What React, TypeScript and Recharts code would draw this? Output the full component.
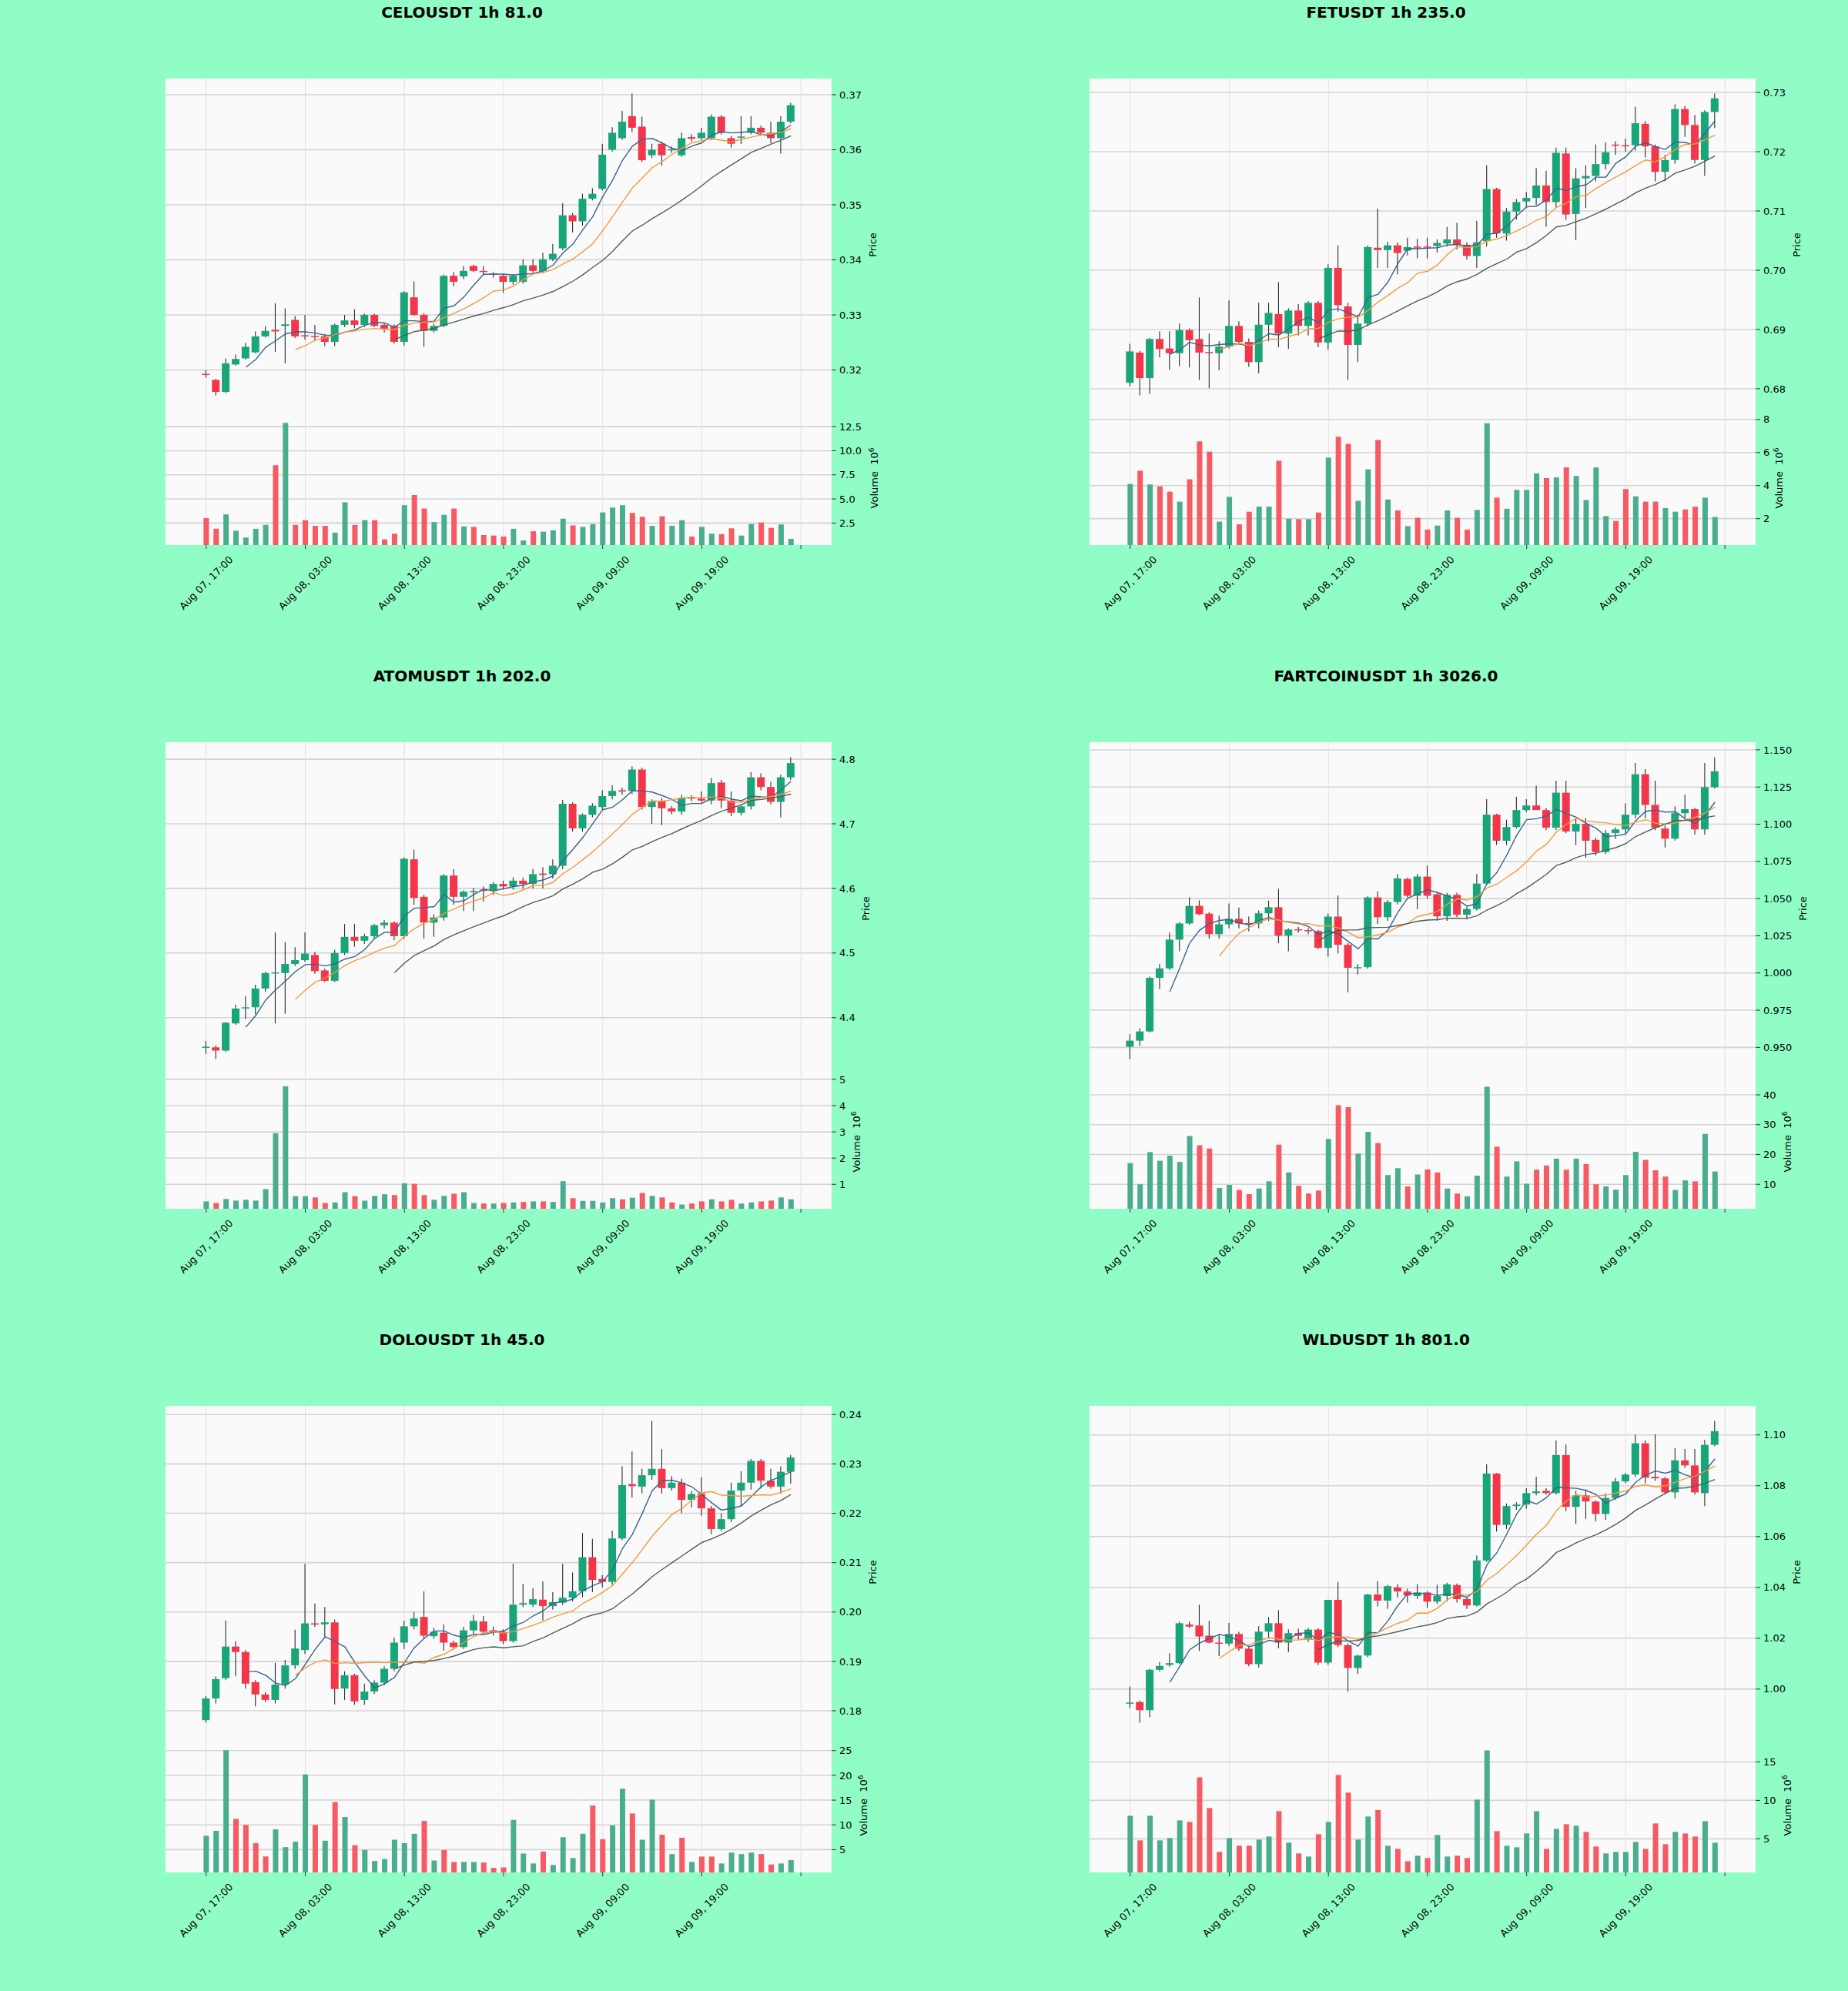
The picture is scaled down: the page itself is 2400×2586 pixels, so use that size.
import React from 'react'
import { Bar, CartesianGrid, Cell, ComposedChart, Line, XAxis, YAxis } from 'recharts'

// ---- shared x axis: 60 hourly candles, ticks every 10 hours
const X_TICKS = [0, 10, 20, 30, 40, 50, 60]
const X_LABELS = ['Aug 07, 17:00', 'Aug 08, 03:00', 'Aug 08, 13:00', 'Aug 08, 23:00', 'Aug 09, 09:00', 'Aug 09, 19:00', '']

// ---- candles as [open, high, low, close]
const CELO_OHLC = [
  [0.3193, 0.32, 0.3186, 0.3191], [0.3182, 0.3184, 0.3154, 0.316], [0.316, 0.3221, 0.3158, 0.3212], [0.321, 0.3228, 0.3208, 0.322],
  [0.3221, 0.3249, 0.3219, 0.3242], [0.3232, 0.327, 0.323, 0.3261], [0.3261, 0.3279, 0.3259, 0.3271], [0.3273, 0.3321, 0.3233, 0.327],
  [0.328, 0.3312, 0.3212, 0.3283], [0.3291, 0.3298, 0.3258, 0.3261], [0.3263, 0.33, 0.3255, 0.3261], [0.3262, 0.3282, 0.3252, 0.326],
  [0.3261, 0.3265, 0.3243, 0.3251], [0.3251, 0.3284, 0.3243, 0.3282], [0.3282, 0.33, 0.3278, 0.329], [0.329, 0.331, 0.3276, 0.3282],
  [0.3282, 0.3302, 0.3278, 0.33], [0.33, 0.3302, 0.3278, 0.328], [0.3282, 0.3285, 0.3268, 0.3275], [0.328, 0.3283, 0.3248, 0.3251],
  [0.3251, 0.3343, 0.3244, 0.3341], [0.3332, 0.3361, 0.3298, 0.33], [0.33, 0.3303, 0.3242, 0.3271], [0.3271, 0.3284, 0.3268, 0.328],
  [0.328, 0.3373, 0.3278, 0.3371], [0.3371, 0.3378, 0.3352, 0.336], [0.337, 0.3389, 0.3365, 0.338], [0.3389, 0.3391, 0.3378, 0.338],
  [0.338, 0.3389, 0.3372, 0.3378], [0.3375, 0.3378, 0.3368, 0.3373], [0.3371, 0.3374, 0.334, 0.336], [0.336, 0.3374, 0.3355, 0.3371],
  [0.336, 0.3401, 0.3357, 0.339], [0.339, 0.3401, 0.3376, 0.338], [0.338, 0.3413, 0.3376, 0.3401], [0.3401, 0.3429, 0.3398, 0.3411],
  [0.3421, 0.3503, 0.3418, 0.3481], [0.3481, 0.3485, 0.345, 0.347], [0.347, 0.352, 0.3462, 0.3511], [0.3511, 0.353, 0.3508, 0.352],
  [0.3529, 0.3611, 0.3526, 0.3591], [0.36, 0.3641, 0.3597, 0.3631], [0.3621, 0.3671, 0.3618, 0.3651], [0.3661, 0.3702, 0.3632, 0.364],
  [0.3642, 0.366, 0.3578, 0.3581], [0.359, 0.3611, 0.3585, 0.36], [0.3611, 0.3615, 0.3571, 0.359], [0.3599, 0.3606, 0.3594, 0.3601],
  [0.359, 0.3631, 0.3587, 0.3621], [0.3623, 0.3628, 0.3615, 0.362], [0.3621, 0.364, 0.3618, 0.3631], [0.3621, 0.3664, 0.3618, 0.366],
  [0.366, 0.3663, 0.3628, 0.3631], [0.3621, 0.3625, 0.3604, 0.3611], [0.3622, 0.3661, 0.361, 0.3624], [0.3631, 0.3661, 0.3628, 0.364],
  [0.364, 0.3644, 0.3627, 0.3631], [0.3631, 0.3651, 0.3612, 0.3621], [0.3621, 0.3661, 0.3593, 0.3651], [0.3651, 0.3685, 0.3648, 0.3681],
]
const CELO_VOL = [
  3.0, 1.9, 3.4, 1.7, 1.0, 1.9, 2.3, 8.5, 12.9, 2.3, 2.8, 2.2, 2.2, 1.5, 4.65, 2.3, 2.8, 2.8, 0.8, 1.4,
  4.35, 5.4, 4.0, 2.6, 3.35, 4.0, 2.15, 2.1, 1.25, 1.2, 1.1, 1.9, 0.7, 1.65, 1.6, 1.75, 2.95, 2.25, 2.1, 2.4,
  3.6, 4.1, 4.35, 3.55, 3.15, 2.2, 3.2, 2.2, 2.8, 1.1, 2.1, 1.4, 1.35, 1.95, 1.2, 2.4, 2.55, 2.0, 2.35, 0.85,
]

const FET_OHLC = [
  [0.681, 0.6876, 0.6804, 0.6863], [0.6861, 0.6864, 0.6789, 0.6818], [0.6818, 0.6886, 0.6791, 0.6884], [0.6884, 0.6897, 0.6853, 0.6867],
  [0.6868, 0.6897, 0.6832, 0.686], [0.686, 0.691, 0.6838, 0.6899], [0.6899, 0.6902, 0.6836, 0.6882], [0.6884, 0.6954, 0.6815, 0.6861],
  [0.6862, 0.6893, 0.6801, 0.686], [0.686, 0.688, 0.6831, 0.6871], [0.6871, 0.6949, 0.6868, 0.6906], [0.6906, 0.6914, 0.6875, 0.6879],
  [0.6879, 0.6885, 0.6837, 0.6845], [0.6845, 0.6945, 0.6826, 0.6908], [0.6908, 0.6945, 0.688, 0.6928], [0.6926, 0.698, 0.687, 0.6893],
  [0.6893, 0.6936, 0.6867, 0.6932], [0.6932, 0.6943, 0.689, 0.6906], [0.6906, 0.6948, 0.689, 0.6945], [0.6945, 0.6948, 0.687, 0.6878],
  [0.6878, 0.701, 0.6866, 0.7004], [0.7004, 0.7042, 0.693, 0.6941], [0.6939, 0.6945, 0.6815, 0.6874], [0.6874, 0.6925, 0.6845, 0.691],
  [0.691, 0.7042, 0.6905, 0.7039], [0.7038, 0.7104, 0.7004, 0.7034], [0.7034, 0.7048, 0.7004, 0.7042], [0.7042, 0.7047, 0.6993, 0.7029],
  [0.7033, 0.7055, 0.7025, 0.7039], [0.704, 0.7053, 0.702, 0.7038], [0.704, 0.7055, 0.702, 0.7038], [0.7041, 0.7052, 0.703, 0.7046],
  [0.7045, 0.7073, 0.704, 0.7052], [0.7052, 0.708, 0.7035, 0.7043], [0.7043, 0.7047, 0.7018, 0.7024], [0.7024, 0.7083, 0.7004, 0.7047],
  [0.7049, 0.7177, 0.704, 0.7137], [0.7137, 0.7139, 0.7055, 0.7062], [0.7062, 0.7105, 0.705, 0.7099], [0.7099, 0.712, 0.7085, 0.7115],
  [0.7116, 0.7132, 0.7105, 0.7122], [0.7122, 0.7172, 0.711, 0.7143], [0.7143, 0.7168, 0.7073, 0.7115], [0.7115, 0.7207, 0.7105, 0.7198],
  [0.7197, 0.7207, 0.7085, 0.7094], [0.7095, 0.7172, 0.7051, 0.7155], [0.7155, 0.7177, 0.7105, 0.7159], [0.7159, 0.7212, 0.715, 0.7179],
  [0.7179, 0.7216, 0.717, 0.7199], [0.7212, 0.7218, 0.7195, 0.721], [0.7211, 0.7222, 0.72, 0.721], [0.7211, 0.7276, 0.7202, 0.7248],
  [0.7247, 0.7252, 0.719, 0.7209], [0.7209, 0.7212, 0.715, 0.7166], [0.7166, 0.7195, 0.715, 0.7186], [0.7186, 0.728, 0.718, 0.7272],
  [0.7272, 0.7277, 0.7225, 0.7245], [0.7245, 0.7262, 0.718, 0.7186], [0.7186, 0.727, 0.7159, 0.7267], [0.7267, 0.7298, 0.724, 0.729],
]
const FET_VOL = [
  4.1, 4.9, 4.07, 3.95, 3.63, 3.03, 4.38, 6.67, 6.05, 1.82, 3.32, 1.66, 2.42, 2.73, 2.73, 5.5, 2.0, 1.97, 1.97, 2.37,
  5.69, 6.95, 6.52, 3.08, 4.98, 6.76, 3.16, 2.5, 1.55, 2.05, 1.34, 1.58, 2.5, 2.05, 1.34, 2.53, 7.77, 3.27, 2.6, 3.74,
  3.74, 4.74, 4.45, 4.5, 5.1, 4.58, 3.13, 5.1, 2.16, 1.86, 3.79, 3.35, 3.03, 3.03, 2.64, 2.42, 2.56, 2.72, 3.27, 2.1,
]

const ATOM_OHLC = [
  [4.354, 4.364, 4.344, 4.355], [4.354, 4.357, 4.336, 4.349], [4.349, 4.393, 4.347, 4.392], [4.391, 4.42, 4.389, 4.414],
  [4.415, 4.433, 4.398, 4.416], [4.416, 4.451, 4.405, 4.445], [4.445, 4.471, 4.44, 4.469], [4.469, 4.532, 4.391, 4.47],
  [4.469, 4.517, 4.406, 4.483], [4.483, 4.509, 4.48, 4.489], [4.489, 4.532, 4.486, 4.499], [4.497, 4.502, 4.468, 4.472],
  [4.473, 4.476, 4.455, 4.457], [4.457, 4.505, 4.455, 4.5], [4.5, 4.545, 4.497, 4.525], [4.525, 4.545, 4.51, 4.519],
  [4.519, 4.53, 4.514, 4.526], [4.526, 4.545, 4.522, 4.543], [4.543, 4.551, 4.538, 4.547], [4.547, 4.549, 4.52, 4.526],
  [4.526, 4.648, 4.522, 4.646], [4.645, 4.66, 4.575, 4.585], [4.587, 4.59, 4.522, 4.547], [4.547, 4.56, 4.525, 4.555],
  [4.555, 4.622, 4.55, 4.62], [4.62, 4.63, 4.575, 4.587], [4.587, 4.597, 4.565, 4.595], [4.595, 4.601, 4.565, 4.596],
  [4.598, 4.603, 4.58, 4.596], [4.596, 4.61, 4.59, 4.607], [4.607, 4.612, 4.598, 4.603], [4.603, 4.617, 4.598, 4.612],
  [4.612, 4.617, 4.6, 4.607], [4.607, 4.63, 4.6, 4.622], [4.623, 4.633, 4.6, 4.621], [4.622, 4.645, 4.615, 4.635],
  [4.635, 4.737, 4.63, 4.731], [4.731, 4.733, 4.688, 4.693], [4.693, 4.716, 4.688, 4.714], [4.714, 4.732, 4.71, 4.728],
  [4.726, 4.752, 4.722, 4.743], [4.743, 4.76, 4.738, 4.751], [4.752, 4.756, 4.745, 4.75], [4.751, 4.789, 4.746, 4.784],
  [4.784, 4.787, 4.722, 4.726], [4.726, 4.738, 4.7, 4.735], [4.735, 4.74, 4.698, 4.724], [4.724, 4.727, 4.715, 4.719],
  [4.719, 4.745, 4.714, 4.74], [4.741, 4.744, 4.735, 4.739], [4.739, 4.75, 4.733, 4.736], [4.736, 4.771, 4.73, 4.763],
  [4.764, 4.768, 4.724, 4.736], [4.736, 4.75, 4.712, 4.717], [4.717, 4.73, 4.713, 4.727], [4.727, 4.78, 4.722, 4.772],
  [4.772, 4.778, 4.752, 4.757], [4.757, 4.765, 4.73, 4.734], [4.734, 4.776, 4.71, 4.772], [4.772, 4.803, 4.768, 4.794],
]
const ATOM_VOL = [
  0.35, 0.29, 0.44, 0.38, 0.41, 0.38, 0.82, 2.95, 4.73, 0.55, 0.55, 0.5, 0.29, 0.31, 0.7, 0.55, 0.38, 0.56, 0.62, 0.59,
  1.04, 1.02, 0.59, 0.41, 0.56, 0.64, 0.7, 0.29, 0.27, 0.27, 0.29, 0.31, 0.33, 0.35, 0.35, 0.33, 1.12, 0.47, 0.37, 0.37,
  0.31, 0.47, 0.43, 0.49, 0.67, 0.56, 0.5, 0.31, 0.23, 0.27, 0.35, 0.43, 0.35, 0.41, 0.27, 0.31, 0.35, 0.38, 0.5, 0.43,
]

const FART_OHLC = [
  [0.9504, 0.959, 0.9422, 0.9545], [0.9545, 0.963, 0.951, 0.9607], [0.9607, 0.9975, 0.96, 0.9967], [0.9967, 1.0061, 0.9891, 1.0031],
  [1.0031, 1.0272, 1.002, 1.0224], [1.0224, 1.034, 1.0146, 1.0333], [1.0333, 1.0508, 1.0325, 1.0451], [1.0451, 1.0488, 1.039, 1.0395],
  [1.0399, 1.041, 1.023, 1.0261], [1.0261, 1.0385, 1.023, 1.0327], [1.0327, 1.0467, 1.03, 1.0364], [1.0364, 1.044, 1.03, 1.0333],
  [1.0335, 1.038, 1.028, 1.0331], [1.0333, 1.042, 1.03, 1.0401], [1.0401, 1.0486, 1.035, 1.0442], [1.0442, 1.0566, 1.02, 1.0251],
  [1.0251, 1.03, 1.0146, 1.0292], [1.0294, 1.031, 1.027, 1.029], [1.0288, 1.03, 1.026, 1.0286], [1.0282, 1.029, 1.016, 1.0169],
  [1.0169, 1.04, 1.011, 1.0379], [1.0379, 1.0521, 1.013, 1.0189], [1.0189, 1.02, 0.987, 1.0035], [1.0035, 1.006, 0.999, 1.0039],
  [1.0039, 1.0515, 1.003, 1.0508], [1.0508, 1.055, 1.033, 1.0375], [1.0375, 1.049, 1.035, 1.0477], [1.0477, 1.0665, 1.046, 1.0636],
  [1.0632, 1.064, 1.051, 1.0519], [1.0519, 1.0665, 1.043, 1.0648], [1.0648, 1.0722, 1.05, 1.0519], [1.0529, 1.054, 1.035, 1.0381],
  [1.0381, 1.054, 1.035, 1.0525], [1.0525, 1.054, 1.0375, 1.0391], [1.0391, 1.0445, 1.036, 1.043], [1.043, 1.0665, 1.042, 1.0601],
  [1.0601, 1.1169, 1.059, 1.1064], [1.1064, 1.107, 1.086, 1.0889], [1.0889, 1.103, 1.086, 1.0981], [1.0981, 1.1185, 1.097, 1.1095],
  [1.1095, 1.1169, 1.108, 1.1126], [1.1126, 1.1259, 1.11, 1.1095], [1.1095, 1.111, 1.096, 1.0977], [1.0977, 1.1292, 1.096, 1.1212],
  [1.1212, 1.1292, 1.094, 1.0951], [1.0951, 1.104, 1.086, 1.1002], [1.1002, 1.104, 1.0775, 1.0889], [1.0895, 1.091, 1.079, 1.0813],
  [1.0813, 1.096, 1.08, 1.094], [1.094, 1.098, 1.09, 1.0965], [1.0965, 1.114, 1.094, 1.1064], [1.1064, 1.1412, 1.104, 1.1336],
  [1.1336, 1.137, 1.104, 1.113], [1.113, 1.1292, 1.096, 1.0977], [1.0971, 1.099, 1.0843, 1.0903], [1.0903, 1.112, 1.089, 1.1074],
  [1.1074, 1.12, 1.104, 1.1101], [1.1101, 1.111, 1.093, 1.0965], [1.0965, 1.1412, 1.093, 1.1249], [1.1249, 1.145, 1.124, 1.1356],
]
const FART_VOL = [
  17.1, 10.0, 20.8, 17.9, 19.6, 17.5, 26.2, 23.1, 22.0, 8.75, 9.8, 8.1, 6.7, 8.6, 11.0, 23.3, 14.0, 9.5, 6.9, 7.9,
  25.2, 36.5, 35.9, 20.3, 27.6, 23.8, 13.1, 15.4, 9.3, 13.3, 15.0, 14.0, 8.6, 6.9, 6.0, 12.9, 42.7, 22.6, 12.6, 17.7,
  10.2, 14.9, 16.3, 18.6, 14.9, 18.6, 16.8, 10.0, 9.3, 8.2, 13.1, 20.9, 18.2, 14.7, 12.6, 8.1, 11.3, 11.0, 26.9, 14.3,
]

const DOLO_OHLC = [
  [0.1781, 0.183, 0.1776, 0.1825], [0.1825, 0.187, 0.1815, 0.1864], [0.1866, 0.1983, 0.1862, 0.193], [0.193, 0.1941, 0.187, 0.1919],
  [0.1919, 0.1923, 0.1845, 0.1855], [0.1858, 0.1862, 0.1809, 0.1833], [0.1833, 0.1838, 0.1818, 0.1822], [0.1822, 0.1897, 0.1815, 0.1853],
  [0.1853, 0.1903, 0.1845, 0.1892], [0.1892, 0.1964, 0.1885, 0.1926], [0.1923, 0.2098, 0.1915, 0.1977], [0.1977, 0.2017, 0.197, 0.1975],
  [0.1975, 0.201, 0.195, 0.1979], [0.1979, 0.1985, 0.1813, 0.1844], [0.1845, 0.188, 0.1822, 0.1872], [0.1872, 0.1875, 0.1812, 0.1819],
  [0.1822, 0.1855, 0.1812, 0.1839], [0.1839, 0.1862, 0.1834, 0.1857], [0.1857, 0.189, 0.1852, 0.1885], [0.1885, 0.1948, 0.188, 0.1938],
  [0.1938, 0.1982, 0.1925, 0.1971], [0.1971, 0.2, 0.1965, 0.1987], [0.199, 0.2042, 0.1945, 0.1952], [0.1951, 0.1968, 0.1946, 0.196],
  [0.1958, 0.1975, 0.1922, 0.1938], [0.1938, 0.1942, 0.1925, 0.1929], [0.1929, 0.197, 0.1925, 0.1963], [0.1963, 0.1994, 0.1955, 0.1982],
  [0.1981, 0.1992, 0.1955, 0.196], [0.1963, 0.197, 0.1952, 0.1961], [0.196, 0.1965, 0.1935, 0.1941], [0.1941, 0.2098, 0.1938, 0.2015],
  [0.2015, 0.2057, 0.201, 0.2018], [0.2015, 0.2048, 0.201, 0.2026], [0.2025, 0.2062, 0.1983, 0.2012], [0.2012, 0.204, 0.2005, 0.202],
  [0.2019, 0.2098, 0.2014, 0.2029], [0.2029, 0.208, 0.2022, 0.2042], [0.2042, 0.216, 0.203, 0.2111], [0.2111, 0.2148, 0.204, 0.2065],
  [0.2067, 0.2075, 0.205, 0.2061], [0.2061, 0.2165, 0.2055, 0.2149], [0.2149, 0.2295, 0.2145, 0.2257], [0.2259, 0.2325, 0.2232, 0.2255],
  [0.2254, 0.229, 0.224, 0.2277], [0.2277, 0.2387, 0.2268, 0.229], [0.229, 0.233, 0.224, 0.2251], [0.2251, 0.2275, 0.2246, 0.2262],
  [0.2262, 0.227, 0.22, 0.2227], [0.2227, 0.2245, 0.2212, 0.2239], [0.224, 0.2273, 0.2195, 0.221], [0.221, 0.2215, 0.2158, 0.2168],
  [0.2168, 0.22, 0.2164, 0.2188], [0.2188, 0.2262, 0.2182, 0.2246], [0.2246, 0.2285, 0.2215, 0.2262], [0.2262, 0.231, 0.2248, 0.2306],
  [0.2306, 0.231, 0.225, 0.2266], [0.2266, 0.229, 0.225, 0.2254], [0.2254, 0.2295, 0.224, 0.2284], [0.2284, 0.2318, 0.226, 0.2313],
]
const DOLO_VOL = [
  7.8, 8.8, 25.1, 11.2, 10.0, 6.3, 3.6, 9.1, 5.5, 6.6, 20.2, 10.0, 6.8, 14.6, 11.6, 5.9, 4.9, 2.7, 3.1, 7.0,
  6.3, 8.2, 10.8, 2.8, 4.9, 2.5, 2.5, 2.5, 2.4, 1.3, 1.4, 11.0, 4.2, 2.2, 4.6, 1.9, 7.5, 3.3, 8.2, 13.9,
  7.1, 9.9, 17.3, 12.3, 7.0, 15.1, 8.0, 4.1, 7.4, 2.5, 3.6, 3.6, 2.2, 4.4, 4.1, 4.4, 4.1, 2.0, 2.2, 2.9,
]

const WLD_OHLC = [
  [0.9944, 1.001, 0.9925, 0.9947], [0.9949, 0.9955, 0.9868, 0.9917], [0.9917, 1.008, 0.989, 1.0076], [1.0076, 1.0107, 1.007, 1.0091],
  [1.0095, 1.014, 1.0088, 1.0102], [1.0102, 1.0265, 1.0098, 1.0259], [1.0254, 1.0265, 1.024, 1.0246], [1.025, 1.0332, 1.015, 1.0207],
  [1.021, 1.0268, 1.018, 1.0183], [1.0183, 1.0218, 1.013, 1.0179], [1.0179, 1.026, 1.017, 1.0217], [1.0217, 1.0225, 1.015, 1.0159],
  [1.0159, 1.0165, 1.009, 1.0098], [1.0098, 1.0247, 1.0085, 1.0226], [1.0226, 1.0283, 1.02, 1.0259], [1.0259, 1.031, 1.016, 1.0183],
  [1.0183, 1.0235, 1.0145, 1.022], [1.022, 1.0238, 1.0195, 1.021], [1.0195, 1.024, 1.0185, 1.0234], [1.0234, 1.024, 1.0095, 1.0104],
  [1.0104, 1.0352, 1.0095, 1.0351], [1.0351, 1.0421, 1.0165, 1.0173], [1.0173, 1.018, 0.999, 1.0083], [1.0083, 1.0135, 1.006, 1.0132],
  [1.0132, 1.0375, 1.0125, 1.0372], [1.0372, 1.0425, 1.0325, 1.0348], [1.0348, 1.041, 1.0315, 1.0405], [1.04, 1.0412, 1.036, 1.0384],
  [1.0384, 1.0395, 1.034, 1.0368], [1.0366, 1.0412, 1.0355, 1.038], [1.038, 1.0385, 1.032, 1.0344], [1.0344, 1.041, 1.0335, 1.0366],
  [1.0366, 1.0418, 1.0345, 1.0412], [1.0409, 1.0415, 1.034, 1.0354], [1.0354, 1.036, 1.0315, 1.0329], [1.0329, 1.0525, 1.0325, 1.0506],
  [1.0506, 1.0885, 1.05, 1.0848], [1.0848, 1.085, 1.062, 1.0646], [1.0646, 1.073, 1.063, 1.072], [1.072, 1.0735, 1.0705, 1.0726],
  [1.0726, 1.079, 1.071, 1.0771], [1.0771, 1.0835, 1.0762, 1.0778], [1.078, 1.079, 1.0765, 1.0771], [1.0771, 1.0978, 1.0765, 1.0921],
  [1.0921, 1.0963, 1.07, 1.0717], [1.0717, 1.078, 1.065, 1.0762], [1.0762, 1.0785, 1.067, 1.0738], [1.0738, 1.0742, 1.066, 1.0689],
  [1.0689, 1.077, 1.0665, 1.0752], [1.0752, 1.083, 1.0745, 1.0817], [1.0817, 1.085, 1.081, 1.0844], [1.0844, 1.1, 1.0835, 1.0967],
  [1.0967, 1.0978, 1.081, 1.0832], [1.0835, 1.1002, 1.082, 1.0829], [1.0829, 1.0835, 1.0765, 1.0774], [1.0774, 1.0948, 1.075, 1.09],
  [1.09, 1.0945, 1.087, 1.088], [1.088, 1.0945, 1.0765, 1.0774], [1.0771, 1.098, 1.072, 1.0961], [1.0961, 1.1055, 1.0955, 1.1015],
]
const WLD_VOL = [
  8.0, 4.8, 8.0, 4.8, 5.1, 7.4, 7.2, 13.0, 9.0, 3.3, 5.1, 4.1, 4.1, 4.9, 5.3, 8.6, 4.5, 3.1, 2.7, 5.6,
  7.2, 13.3, 11.0, 4.9, 7.9, 8.75, 4.1, 3.7, 2.1, 2.8, 2.5, 5.5, 2.7, 2.8, 2.5, 10.1, 16.5, 6.0, 4.1, 3.9,
  5.7, 8.6, 3.7, 6.3, 6.9, 6.7, 5.9, 4.0, 3.1, 3.3, 3.3, 4.6, 3.7, 7.0, 4.3, 5.9, 5.7, 5.3, 7.3, 4.5,
]

// ---- axis ticks per chart
const CELO_PRICE_TICKS = [0.32, 0.33, 0.34, 0.35, 0.36, 0.37]
const FET_PRICE_TICKS = [0.68, 0.69, 0.7, 0.71, 0.72, 0.73]
const ATOM_PRICE_TICKS = [4.4, 4.5, 4.6, 4.7, 4.8]
const FART_PRICE_TICKS = [0.95, 0.975, 1.0, 1.025, 1.05, 1.075, 1.1, 1.125, 1.15]
const DOLO_PRICE_TICKS = [0.18, 0.19, 0.2, 0.21, 0.22, 0.23, 0.24]
const WLD_PRICE_TICKS = [1.0, 1.02, 1.04, 1.06, 1.08, 1.1]

const CELO_VOL_TICKS = [2.5, 5, 7.5, 10, 12.5]
const FET_VOL_TICKS = [2, 4, 6, 8]
const ATOM_VOL_TICKS = [1, 2, 3, 4, 5]
const FART_VOL_TICKS = [10, 20, 30, 40]
const DOLO_VOL_TICKS = [5, 10, 15, 20, 25]
const WLD_VOL_TICKS = [5, 10, 15]

// ---- look
const PAGE_BG = '#8ffdc5'
const PLOT_BG = '#fafafa'
const GRID_H = '#d4d4d4'
const GRID_V = '#e0e0e0'
const UP = '#19a57a'
const DOWN = '#f4364a'
const VOL_UP = '#4aae8e'
const VOL_DOWN = '#f65a62'
const WICK = '#2b2b2b'
const MA_COLORS = ['#3a6290', '#f39a3e', '#4e5d57']
const FONT = '"DejaVu Sans", sans-serif'

// ---- layout
const COLS = [215, 1415]
const ROWS = [102, 964, 1826]
const PLOT_W = 865
const PRICE_H = 431
const VOL_H = 175
const AXIS_W = 110
const X_DOMAIN = [-4.1, 63.1]

const CHARTS = [
  { title: 'CELOUSDT 1h 81.0', ohlc: CELO_OHLC, vol: CELO_VOL, pTicks: CELO_PRICE_TICKS, pDigits: 2, vTicks: CELO_VOL_TICKS, vDigits: 1, pLab: 53, vLab: 55 },
  { title: 'FETUSDT 1h 235.0', ohlc: FET_OHLC, vol: FET_VOL, pTicks: FET_PRICE_TICKS, pDigits: 2, vTicks: FET_VOL_TICKS, vDigits: 0, pLab: 53, vLab: 30 },
  { title: 'ATOMUSDT 1h 202.0', ohlc: ATOM_OHLC, vol: ATOM_VOL, pTicks: ATOM_PRICE_TICKS, pDigits: 1, vTicks: ATOM_VOL_TICKS, vDigits: 0, pLab: 44, vLab: 32 },
  { title: 'FARTCOINUSDT 1h 3026.0', ohlc: FART_OHLC, vol: FART_VOL, pTicks: FART_PRICE_TICKS, pDigits: 3, vTicks: FART_VOL_TICKS, vDigits: 0, pLab: 61, vLab: 41 },
  { title: 'DOLOUSDT 1h 45.0', ohlc: DOLO_OHLC, vol: DOLO_VOL, pTicks: DOLO_PRICE_TICKS, pDigits: 2, vTicks: DOLO_VOL_TICKS, vDigits: 0, pLab: 53, vLab: 41 },
  { title: 'WLDUSDT 1h 801.0', ohlc: WLD_OHLC, vol: WLD_VOL, pTicks: WLD_PRICE_TICKS, pDigits: 2, vTicks: WLD_VOL_TICKS, vDigits: 0, pLab: 53, vLab: 41 },
]

// simple moving average of closes, null until the window is full
function sma(values: number[], n: number): (number | null)[] {
  return values.map((_, i) => {
    if (i < n - 1) return null
    let s = 0
    for (let k = i - n + 1; k <= i; k++) s += values[k]
    return s / n
  })
}

function buildRows(ohlc: number[][], vol: number[]) {
  const closes = ohlc.map((r) => r[3])
  const m5 = sma(closes, 5)
  const m10 = sma(closes, 10)
  const m20 = sma(closes, 20)
  return ohlc.map(([o, h, l, c], i) => ({
    i, o, h, l, c,
    range: [l, h],
    up: c >= o,
    vol: vol[i],
    ma5: m5[i],
    ma10: m10[i],
    ma20: m20[i],
  }))
}

// candle drawn inside the bar's [low, high] box, so the y scale comes from recharts
function renderCandle(props: any) {
  const { x, y, width, height, payload } = props
  if (!payload || x == null || y == null) return <g />
  const { o, h, l, c } = payload
  const span = h - l
  const py = (v: number) => (span > 0 ? y + ((h - v) / span) * height : y)
  const top = py(Math.max(o, c))
  const bot = py(Math.min(o, c))
  const cx = x + width / 2
  return (
    <g>
      <line x1={cx} x2={cx} y1={y} y2={y + height} stroke={WICK} strokeWidth={1.1} />
      <rect x={x} y={top} width={width} height={Math.max(bot - top, 1.5)} fill={c >= o ? UP : DOWN} />
    </g>
  )
}

function renderXTick(props: any) {
  const { x, y, payload } = props
  const label = X_LABELS[X_TICKS.indexOf(payload.value)]
  if (!label) return <g />
  const cy = y + 42
  return (
    <text x={x} y={cy} transform={`rotate(-45 ${x} ${cy})`} textAnchor="middle" dominantBaseline="central"
      fontSize={13} fill="#000" fontFamily={FONT}>
      {label}
    </text>
  )
}

function PricePanel({ rows, ticks, digits }: any) {
  const lo = Math.min(...rows.map((r: any) => r.l))
  const hi = Math.max(...rows.map((r: any) => r.h))
  const pad = (hi - lo) * 0.05
  return (
    <ComposedChart width={PLOT_W + AXIS_W} height={PRICE_H} data={rows} margin={{ top: 0, right: 0, bottom: 0, left: 0 }}>
      <CartesianGrid fill={PLOT_BG} fillOpacity={1} vertical={false} stroke={GRID_H} strokeWidth={1.6} syncWithTicks />
      <CartesianGrid horizontal={false} stroke={GRID_V} strokeWidth={1} syncWithTicks />
      <XAxis dataKey="i" type="number" domain={X_DOMAIN} ticks={X_TICKS} allowDataOverflow hide />
      <YAxis orientation="right" type="number" domain={[lo - pad, hi + pad]} ticks={ticks} allowDataOverflow
        width={AXIS_W} axisLine={false} tickSize={6} tickMargin={4} interval={0}
        tickLine={{ stroke: '#333' }} tick={{ fontSize: 13, fill: '#000', fontFamily: FONT }}
        tickFormatter={(v: number) => v.toFixed(digits)} />
      <Bar dataKey="range" barSize={10} shape={renderCandle} isAnimationActive={false} />
      <Line dataKey="ma5" type="linear" stroke={MA_COLORS[0]} strokeWidth={1.4} dot={false} activeDot={false} isAnimationActive={false} />
      <Line dataKey="ma10" type="linear" stroke={MA_COLORS[1]} strokeWidth={1.4} dot={false} activeDot={false} isAnimationActive={false} />
      <Line dataKey="ma20" type="linear" stroke={MA_COLORS[2]} strokeWidth={1.4} dot={false} activeDot={false} isAnimationActive={false} />
    </ComposedChart>
  )
}

function VolumePanel({ rows, ticks, digits }: any) {
  const vs = rows.map((r: any) => r.vol)
  return (
    <ComposedChart width={PLOT_W + AXIS_W} height={VOL_H + 110} data={rows} margin={{ top: 0, right: 0, bottom: 0, left: 0 }}>
      <CartesianGrid fill={PLOT_BG} fillOpacity={1} vertical={false} stroke={GRID_H} strokeWidth={1.6} syncWithTicks />
      <CartesianGrid horizontal={false} stroke={GRID_V} strokeWidth={1} syncWithTicks />
      <XAxis dataKey="i" type="number" domain={X_DOMAIN} ticks={X_TICKS} allowDataOverflow height={110}
        axisLine={false} tickSize={5} interval={0} tickLine={{ stroke: '#333' }} tick={renderXTick} />
      <YAxis orientation="right" type="number" domain={[0.3 * Math.min(...vs), 1.1 * Math.max(...vs)]} ticks={ticks}
        allowDataOverflow width={AXIS_W} axisLine={false} tickSize={6} tickMargin={4} interval={0}
        tickLine={{ stroke: '#333' }} tick={{ fontSize: 13, fill: '#000', fontFamily: FONT }}
        tickFormatter={(v: number) => v.toFixed(digits)} />
      <Bar dataKey="vol" barSize={7} isAnimationActive={false}>
        {rows.map((r: any) => (
          <Cell key={r.i} fill={r.up ? VOL_UP : VOL_DOWN} />
        ))}
      </Bar>
    </ComposedChart>
  )
}

const rotated = (cx: number, cy: number): React.CSSProperties => ({
  position: 'absolute',
  left: cx,
  top: cy,
  transform: 'translate(-50%, -50%) rotate(-90deg)',
  whiteSpace: 'nowrap',
  fontSize: 13,
  color: '#000',
  lineHeight: 1,
})

export default function App() {
  return (
    <div style={{ position: 'absolute', left: 0, top: 0, width: 2400, height: 2586, background: PAGE_BG, fontFamily: FONT, overflow: 'hidden' }}>
      {CHARTS.map((ch, k) => {
        const left = COLS[k % 2]
        const top = ROWS[Math.floor(k / 2)]
        const rows = buildRows(ch.ohlc, ch.vol)
        const right = left + PLOT_W
        return (
          <React.Fragment key={ch.title}>
            <div style={{ position: 'absolute', left: left + 385, top: top - 86, transform: 'translate(-50%, -50%)', fontSize: 20, fontWeight: 'bold', whiteSpace: 'nowrap', color: '#000' }}>
              {ch.title}
            </div>
            <div style={{ position: 'absolute', left, top }}>
              <PricePanel rows={rows} ticks={ch.pTicks} digits={ch.pDigits} />
            </div>
            <div style={{ position: 'absolute', left, top: top + PRICE_H }}>
              <VolumePanel rows={rows} ticks={ch.vTicks} digits={ch.vDigits} />
            </div>
            <div style={rotated(right + ch.pLab, top + PRICE_H / 2)}>Price</div>
            <div style={rotated(right + ch.vLab, top + PRICE_H + VOL_H / 2)}>
              Volume&nbsp;&nbsp;10<sup style={{ fontSize: 9 }}>6</sup>
            </div>
          </React.Fragment>
        )
      })}
    </div>
  )
}
